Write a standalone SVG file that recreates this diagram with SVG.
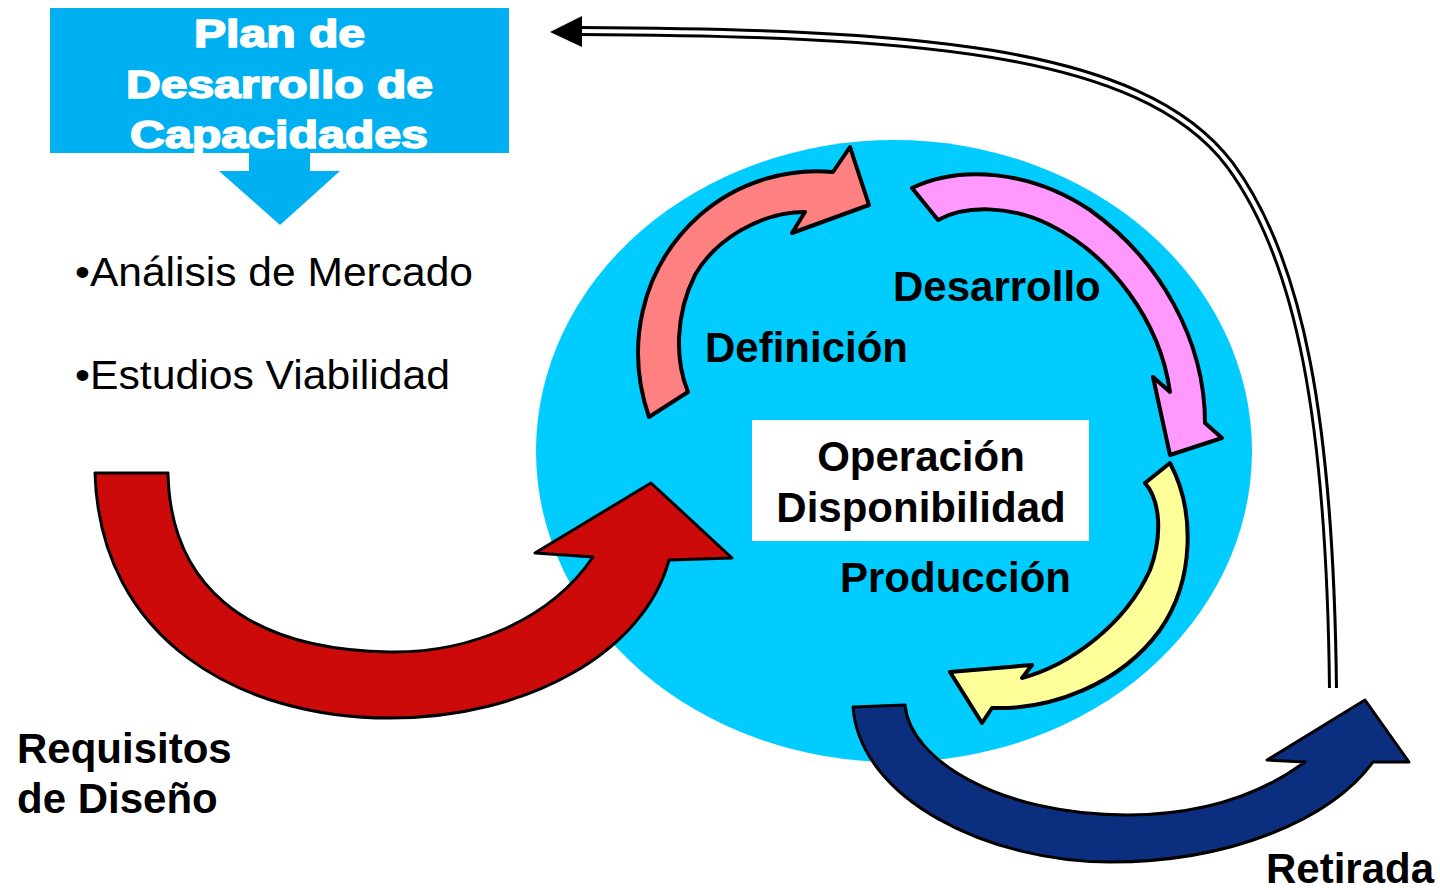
<svg xmlns="http://www.w3.org/2000/svg" width="1440" height="890" viewBox="0 0 1440 890">
<style>
.t{font-family:"Liberation Sans",Arial,sans-serif;font-weight:bold;font-size:42px;fill:#000}
.tw{font-family:"Liberation Sans",Arial,sans-serif;font-weight:bold;font-size:38px;fill:#fff;stroke:#fff;stroke-width:1.6}
.b{font-family:"Liberation Sans",Arial,sans-serif;font-size:40px;fill:#000}
.arr{stroke:#000;stroke-width:4;stroke-linejoin:round}
.arr2{stroke:#000;stroke-width:3;stroke-linejoin:round}
</style>
<rect width="1440" height="890" fill="#fff"/>
<g id="ciclo">
<ellipse cx="894" cy="451" rx="358" ry="311" fill="#00CCFF"/>
</g>
<g id="plan">
<rect x="50" y="8" width="459" height="145" fill="#00B0F0"/>
<polygon points="249,152 310,152 310,171 340,171 280,225 219,171 249,171" fill="#00B0F0"/>
<text class="tw" x="194" y="47" textLength="171" lengthAdjust="spacingAndGlyphs">Plan de</text>
<text class="tw" x="126" y="98" textLength="307" lengthAdjust="spacingAndGlyphs">Desarrollo de</text>
<text class="tw" x="130" y="148" textLength="298" lengthAdjust="spacingAndGlyphs">Capacidades</text>
</g>
<g id="bullets">
<text class="b" x="75" y="286" textLength="398" lengthAdjust="spacingAndGlyphs">•Análisis de Mercado</text>
<text class="b" x="75" y="389" textLength="375" lengthAdjust="spacingAndGlyphs">•Estudios Viabilidad</text>
</g>
<g id="connectors">
<path d="M1333,688 C1330,420 1300,260 1230,165 C1140,45 900,33 580,31" fill="none" stroke="#000" stroke-width="10"/>
<path d="M1333,690 C1330,420 1300,260 1230,165 C1140,45 900,33 578,31" fill="none" stroke="#fff" stroke-width="4"/>
<polygon points="550,32 582,16 582,47" fill="#000"/>
</g>
<g id="definicion">
<path class="arr" fill="#FF8080" d="M649,417 C626,350 638,270 700,215 C740,180 790,168 833,172 L850,147 L869,205 L792,233 L805,212 C760,212 715,240 695,275 C675,315 675,360 688,392 Z"/>
<text class="t" x="705" y="362">Definición</text>
</g>
<g id="desarrollo">
<path class="arr" fill="#FF99FF" d="M912,188 C960,165 1030,170 1090,210 C1160,260 1205,340 1205,423 L1222,438 L1170,455 L1153,377 L1170,392 C1160,320 1110,255 1050,225 C1010,205 965,205 938,220 Z"/>
<text class="t" x="893" y="301">Desarrollo</text>
</g>
<g id="operacion">
<rect x="752" y="420" width="337" height="121" fill="#fff"/>
<text class="t" x="921" y="471" text-anchor="middle">Operación</text>
<text class="t" x="921" y="522" text-anchor="middle">Disponibilidad</text>
</g>
<g id="produccion">
<path class="arr" fill="#FFFF99" d="M1145,483 L1170,463 C1195,510 1195,580 1160,630 C1120,685 1050,710 992,708 L982,723 L950,672 L1032,665 L1022,678 C1070,665 1125,625 1150,570 C1163,535 1160,500 1145,483 Z"/>
<text class="t" x="840" y="592">Producción</text>
</g>
<g id="requisitos">
<path class="arr2" fill="#CC0A0A" d="M95,473 L168,473 C170,580 240,650 390,652 C470,653 550,620 593,557 L535,553 L651,483 L732,558 L669,560 C645,650 530,718 390,718 C240,718 100,640 95,473 Z"/>
<text class="t" x="17" y="763">Requisitos</text>
<text class="t" x="17" y="813">de Diseño</text>
</g>
<g id="retirada">
<path class="arr2" fill="#0B2F7E" d="M853,707 L905,705 C910,760 1000,815 1127,815 C1200,815 1260,795 1305,762 L1267,760 L1365,700 L1409,762 L1373,762 C1330,820 1230,862 1110,862 C990,862 860,800 853,707 Z"/>
<text class="t" x="1266" y="883">Retirada</text>
</g>
</svg>
